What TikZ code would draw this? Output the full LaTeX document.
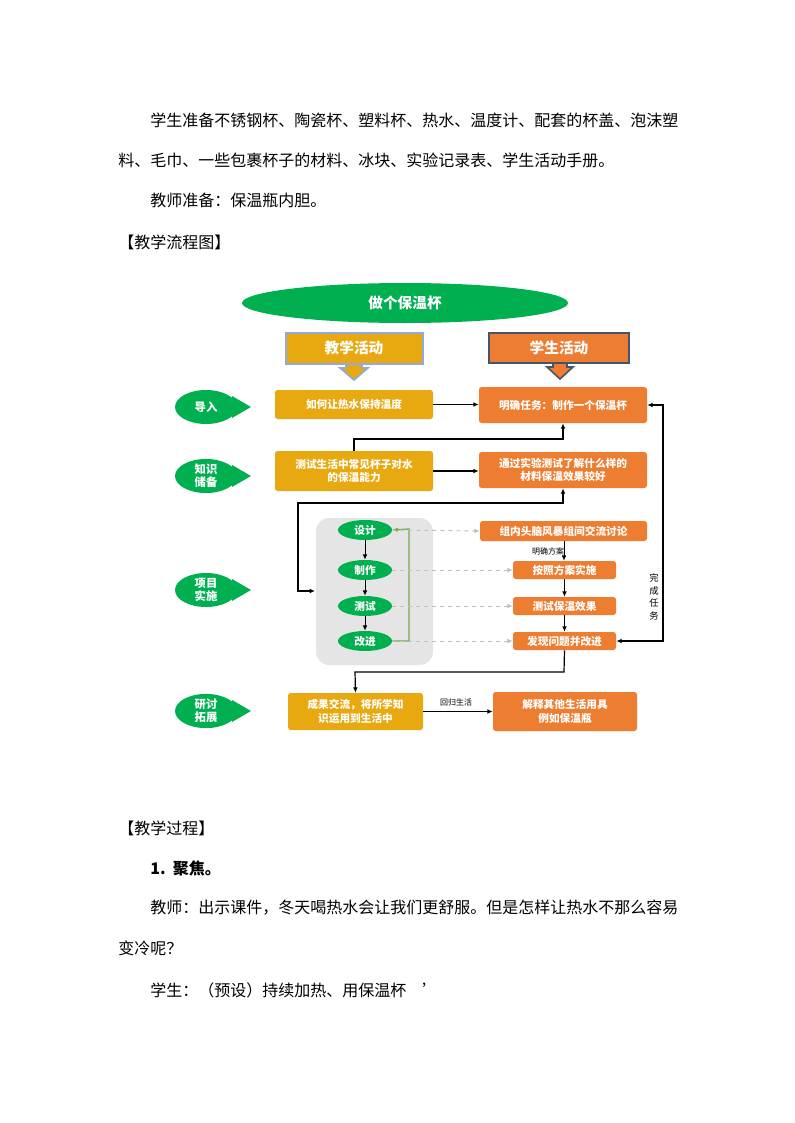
\documentclass[tikz,border=0pt]{standalone}
\usepackage{fontspec}
\setmainfont{Noto Sans CJK SC}
\usetikzlibrary{arrows.meta,shapes.geometric,calc}
\definecolor{gr}{RGB}{0,176,80}
\definecolor{gold}{RGB}{232,168,16}
\definecolor{org}{RGB}{237,125,49}
\definecolor{lb}{RGB}{143,170,220}
\definecolor{dk}{RGB}{68,84,106}
\definecolor{olv}{RGB}{112,173,71}
\begin{document}
\begin{tikzpicture}[x=0.75pt,y=-0.75pt,
 txt/.style={anchor=west,inner sep=0,font=\fontsize{12}{14}\selectfont},
 tbox/.style={fill=gold,rounded corners=2pt,text=white,font=\bfseries\fontsize{8}{10}\selectfont,align=center,inner sep=0},
 sbox/.style={fill=org,rounded corners=2pt,text=white,font=\bfseries\fontsize{8}{10}\selectfont,align=center,inner sep=0},
 gel/.style={ellipse,fill=gr,text=white,font=\bfseries\fontsize{8}{10}\selectfont,inner sep=0},
 arr/.style={-{Latex[length=4pt,width=3.5pt]},black,line width=0.9pt},
 dsh/.style={-{Latex[length=4pt,width=3.5pt]},gray!50,dashed,line width=0.7pt},
 lbl/.style={font=\fontsize{6}{7}\selectfont,inner sep=0}]
\useasboundingbox (0,0) rectangle (794,1123);
\fill[white] (0,0) rectangle (794,1123);
% text
\node[txt] (t1) at (150,120) {学生准备不锈钢杯、陶瓷杯、塑料杯、热水、温度计、配套的杯盖、泡沫塑};
\node[txt] (t2) at (118,160) {料、毛巾、一些包裹杯子的材料、冰块、实验记录表、学生活动手册。};
\node[txt] (t3) at (150,200) {教师准备：保温瓶内胆。};
\node[txt] (t4) at (118,242) {【教学流程图】};
\node[txt] (t5) at (118,828) {【教学过程】};
\node[txt] (t6) at (150,868) {\textbf{1.\ \ 聚焦。}};
\node[txt] (t7) at (150,908) {教师：出示课件，冬天喝热水会让我们更舒服。但是怎样让热水不那么容易};
\node[txt] (t8) at (118,948) {变冷呢？};
\node[txt] (t9) at (150,990) {学生：（预设）持续加热、用保温杯　’};
% title
\node[ellipse,fill=gr,minimum width=326*0.75pt,minimum height=40*0.75pt,text=white,font=\bfseries\fontsize{11}{13}\selectfont] (title) at (405,303) {做个保温杯};
% header boxes
\fill[gold,draw=lb,line width=1.2pt] (286,333) rectangle (423,364);
\fill[gold,draw=lb,line width=1.2pt] (340,364) -- (346,364) -- (346,368) -- (340,368) -- (354,380) -- (368,368) -- (362,368) -- (362,364) -- cycle;
\node[text=white,font=\bfseries\fontsize{11}{13}\selectfont] (ta) at (354,348) {教学活动};
\fill[org,draw=dk,line width=1.2pt] (489,333) rectangle (629,363);
\fill[org,draw=dk,line width=1.2pt] (547,363) -- (553,363) -- (553,367) -- (547,367) -- (560,379) -- (573,367) -- (567,367) -- (567,363) -- cycle;
\node[text=white,font=\bfseries\fontsize{11}{13}\selectfont] (sa) at (559,348) {学生活动};
% left stage markers
\foreach \n/\y/\t in {e1/407/导入,e2/476/{知识\\储备},e3/590/{项目\\实施},e4/711/{研讨\\拓展}}{
  \fill[gr] (232,\y-11) -- (251,\y) -- (232,\y+11) -- cycle;
  \node[gel,minimum width=62*0.75pt,minimum height=34*0.75pt,align=center,font=\bfseries\fontsize{8.5}{10}\selectfont] (\n) at (206,\y) {\t};
}
% row boxes
\node[tbox,minimum width=158*0.75pt,minimum height=29*0.75pt] (b1) at (354,404.5) {如何让热水保持温度};
\node[sbox,minimum width=168*0.75pt,minimum height=36*0.75pt] (s1) at (563,405) {明确任务：制作一个保温杯};
\node[tbox,minimum width=158*0.75pt,minimum height=40*0.75pt] (b2) at (354,471) {测试生活中常见杯子对水\\的保温能力};
\node[sbox,minimum width=168*0.75pt,minimum height=36*0.75pt] (s2) at (563,470) {通过实验测试了解什么样的\\材料保温效果较好};
% gray box
\fill[gray!20,rounded corners=10pt] (316,518) rectangle (433,665);
\node[gel,minimum width=54*0.75pt,minimum height=20*0.75pt] (g1) at (365,530) {设计};
\node[gel,minimum width=54*0.75pt,minimum height=20*0.75pt] (g2) at (365,570) {制作};
\node[gel,minimum width=54*0.75pt,minimum height=20*0.75pt] (g3) at (365,606) {测试};
\node[gel,minimum width=54*0.75pt,minimum height=20*0.75pt] (g4) at (365,641) {改进};
\draw[arr,line width=0.7pt] (g1) -- (g2);
\draw[arr,line width=0.7pt] (g2) -- (g3);
\draw[arr,line width=0.7pt] (g3) -- (g4);
\draw[olv,line width=1pt,-{Latex[length=4pt,width=3.5pt]}] (g4.east) -- (409,641) -- (409,529) -- (g1.east);
\node[sbox,minimum width=167*0.75pt,minimum height=20*0.75pt] (p1) at (563.5,531) {组内头脑风暴组间交流讨论};
\node[sbox,minimum width=103*0.75pt,minimum height=18*0.75pt] (p2) at (564.5,570) {按照方案实施};
\node[sbox,minimum width=103*0.75pt,minimum height=18*0.75pt] (p3) at (564.5,606) {测试保温效果};
\node[sbox,minimum width=103*0.75pt,minimum height=18*0.75pt] (p4) at (564.5,641) {发现问题并改进};
\draw[dsh] (g1.east) -- (p1.west);
\draw[dsh] (g2.east) -- (p2.west);
\draw[dsh] (g3.east) -- (p3.west);
\draw[dsh] (g4.east) -- (p4.west);
\draw[arr,line width=0.7pt] (p1.south -| 564,0) -- (p2.north -| 564,0);
\draw[arr,line width=0.7pt] (p2) -- (p3);
\draw[arr,line width=0.7pt] (p3) -- (p4);
\node[lbl] (l1) at (548,551) {明确方案};
% bottom row
\node[tbox,minimum width=135*0.75pt,minimum height=37*0.75pt] (b4) at (355.5,711.5) {成果交流，将所学知\\识运用到生活中};
\node[sbox,minimum width=144*0.75pt,minimum height=39*0.75pt] (s4) at (565,711.5) {解释其他生活用具\\例如保温瓶};
\draw[arr] (b4.east) -- (s4.west);
\node[lbl] (l2) at (456,702) {回归生活};
% connectors
\draw[arr] (b1.east) -- (s1.west |- b1.east);
\draw[arr] (b2.east) -- (s2.west |- b2.east);
\draw[arr] (b2.north) -- (354,439) -- (563,439) -- (s1.south);
\draw[arr,{Latex[length=4pt,width=3.5pt]}-{Latex[length=4pt,width=3.5pt]}] (s2.south) -- (563,503) -- (298,503) -- (298,591) -- (315,591);
\draw[arr,{Latex[length=4pt,width=3.5pt]}-{Latex[length=4pt,width=3.5pt]}] (p4.east) -- (663,641) -- (663,405) -- (s1.east);
\node[lbl,align=center,font=\fontsize{7}{9.5}\selectfont] (l3) at (654,597) {完\\成\\任\\务};
\draw[arr] (p4.south) -- (564,672) -- (355,672) -- (b4.north);
\end{tikzpicture}
\end{document}
